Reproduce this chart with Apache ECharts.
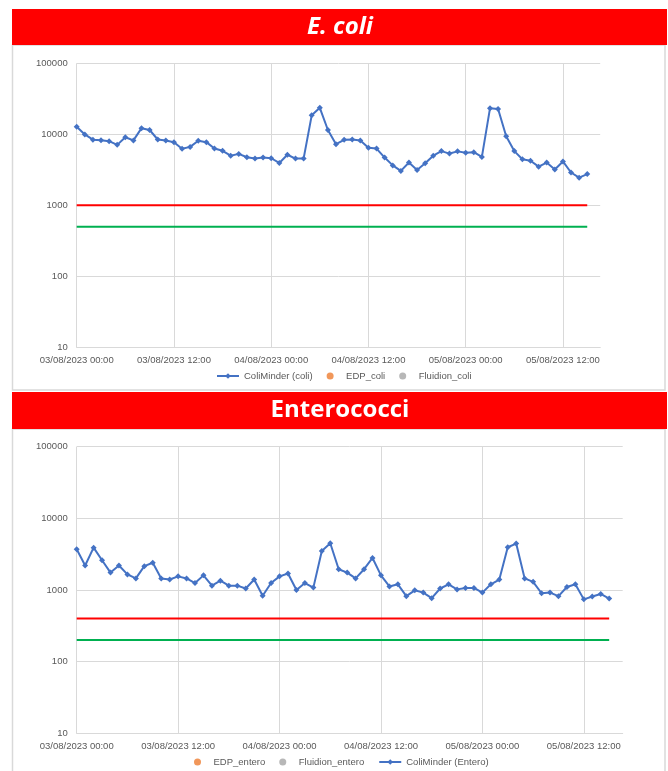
<!DOCTYPE html>
<html>
<head>
<meta charset="utf-8">
<script src="https://cdn.jsdelivr.net/npm/echarts@6/dist/echarts.min.js"></script>
<style>
  html, body { margin: 0; padding: 0; background: #fff; }
  #chart { width: 668px; height: 771px; }
</style>
</head>
<body>
<div id="chart"></div>
<script>
// hourly readings, 03/08/2023 00:00 -> 05/08/2023 15:00
const xTickLabels = [
  "03/08/2023 00:00", "03/08/2023 12:00", "04/08/2023 00:00",
  "04/08/2023 12:00", "05/08/2023 00:00", "05/08/2023 12:00"
];
const yTickLabels = ["10", "100", "1000", "10000", "100000"];

const coliMinderColi = [
  12800, 9950, 8400, 8250, 8000, 7100, 9100, 8200, 12200, 11500,
  8450, 8200, 7750, 6250, 6650, 8100, 7750, 6300, 5850, 5000,
  5300, 4750, 4550, 4700, 4600, 3950, 5150, 4550, 4550, 18500,
  23600, 11500, 7250, 8350, 8450, 8200, 6450, 6300, 4700, 3650,
  3050, 4000, 3150, 3900, 5000, 5800, 5350, 5750, 5500, 5600,
  4800, 23200, 22700, 9400, 5800, 4450, 4250, 3500, 4000, 3200,
  4150, 2900, 2450, 2750
];
const coliMinderEntero = [
  3700, 2200, 3900, 2600, 1750, 2200, 1650, 1450, 2150, 2400,
  1450, 1400, 1550, 1450, 1250, 1600, 1150, 1350, 1150, 1150,
  1050, 1400, 830, 1250, 1550, 1700, 1000, 1250, 1080, 3500,
  4500, 1950, 1750, 1450, 1950, 2800, 1600, 1120, 1200, 820,
  990, 920, 770, 1050, 1200, 1020, 1070, 1070, 920, 1200,
  1400, 3950, 4450, 1450, 1300, 900, 920, 820, 1100, 1200,
  740, 810, 880, 760
];
// limit lines: [start hour, end hour] at a fixed level
const limitHours = [0, 63];
const coliLimits = { red: 1000, green: 500 };
const enteroLimits = { red: 400, green: 200 };

const AXIS_MAX = 64.6; // hours after 03/08 00:00
const gridGray = "#D9D9D9";
const labelFont = "'Liberation Sans', Arial, sans-serif";

const toPoints = (arr) => arr.map((v, i) => [i, v]);
const limitLine = (v) => limitHours.map((h) => [h, v]);

const xAxisBase = (gridIndex) => ({
  type: "value",
  gridIndex,
  min: 0,
  max: AXIS_MAX,
  interval: 12,
  axisLine: { show: true, lineStyle: { color: gridGray, width: 1 } },
  axisTick: { show: false },
  splitLine: { show: true, showMaxLine: false, lineStyle: { color: gridGray } },
  axisLabel: {
    showMaxLabel: false,
    margin: 8,
    color: "#595959",
    fontSize: 9.5,
    fontFamily: labelFont,
    formatter: (v) => (v % 12 === 0 ? xTickLabels[v / 12] || "" : ""),
  },
});

const yAxisBase = (gridIndex) => ({
  type: "log",
  logBase: 10,
  gridIndex,
  min: 10,
  max: 100000,
  axisLine: { show: false },
  axisTick: { show: false },
  splitLine: { show: true, lineStyle: { color: gridGray } },
  axisLabel: {
    margin: 9,
    color: "#595959",
    fontSize: 9.5,
    fontFamily: labelFont,
    formatter: (v) => yTickLabels[Math.round(Math.log10(v)) - 1],
  },
});

const mainLine = (name, data, idx) => ({
  name,
  type: "line",
  xAxisIndex: idx,
  yAxisIndex: idx,
  data: toPoints(data),
  symbol: "diamond",
  symbolSize: 6,
  showAllSymbol: true,
  itemStyle: { color: "#4472C4" },
  lineStyle: { color: "#4472C4", width: 2 },
  z: 5,
});
const emptyScatter = (name, color, idx) => ({
  name,
  type: "scatter",
  xAxisIndex: idx,
  yAxisIndex: idx,
  data: [],
  itemStyle: { color },
});
const limitSeries = (v, color, idx) => ({
  type: "line",
  xAxisIndex: idx,
  yAxisIndex: idx,
  data: limitLine(v),
  symbol: "none",
  lineStyle: { color, width: 2 },
  silent: true,
  z: 3,
});

const legendText = { color: "#595959", fontSize: 9.5, fontFamily: labelFont };
const titleStyle = {
  color: "#fff",
  fontFamily: "'Open Sans', sans-serif",
  fontWeight: "bold",
  fontSize: 24,
};

const chart = echarts.init(document.getElementById("chart"));

const option = {
  animation: false,
  backgroundColor: "#fff",
  graphic: [
    { type: "rect", shape: { x: 12.5, y: 45, width: 652.5, height: 345 },
      style: { fill: "#fff", stroke: gridGray, lineWidth: 1.5 }, z: -10 },
    { type: "rect", shape: { x: 12.5, y: 429, width: 652.5, height: 360 },
      style: { fill: "#fff", stroke: gridGray, lineWidth: 1.5 }, z: -10 },
    { type: "rect", shape: { x: 12, y: 9, width: 655, height: 36 },
      style: { fill: "#FF0000" }, z: -5 },
    { type: "rect", shape: { x: 12, y: 392, width: 655, height: 37 },
      style: { fill: "#FF0000" }, z: -5 },
  ],
  title: [
    { text: "E. coli", left: 340, top: 27, textAlign: "center", textVerticalAlign: "middle",
      padding: 0, textStyle: Object.assign({ fontStyle: "italic" }, titleStyle) },
    { text: "Enterococci", left: 340, top: 410.5, textAlign: "center", textVerticalAlign: "middle",
      padding: 0, textStyle: titleStyle },
  ],
  legend: [
    {
      data: ["ColiMinder (coli)", "EDP_coli", "Fluidion_coli"],
      left: 216,
      top: 371,
      padding: 0,
      itemWidth: 22,
      itemHeight: 7,
      itemGap: 14,
      textStyle: legendText,
    },
    {
      data: ["EDP_entero", "Fluidion_entero", "ColiMinder (Entero)"],
      left: 194,
      top: 757,
      padding: 0,
      itemWidth: 22,
      itemHeight: 7,
      itemGap: 14,
      textStyle: legendText,
    },
  ],
  grid: [
    { left: 76.7, top: 63.3, width: 523.5, height: 284 },
    { left: 76.7, top: 446.7, width: 546, height: 286.6 },
  ],
  xAxis: [xAxisBase(0), xAxisBase(1)],
  yAxis: [yAxisBase(0), yAxisBase(1)],
  series: [
    limitSeries(coliLimits.red, "#FF0000", 0),
    limitSeries(coliLimits.green, "#00B050", 0),
    mainLine("ColiMinder (coli)", coliMinderColi, 0),
    emptyScatter("EDP_coli", "#ED7D31", 0),
    emptyScatter("Fluidion_coli", "#A5A5A5", 0),
    limitSeries(enteroLimits.red, "#FF0000", 1),
    limitSeries(enteroLimits.green, "#00B050", 1),
    emptyScatter("EDP_entero", "#ED7D31", 1),
    emptyScatter("Fluidion_entero", "#A5A5A5", 1),
    mainLine("ColiMinder (Entero)", coliMinderEntero, 1),
  ],
};

chart.setOption(option);

window.addEventListener("resize", function () {
  chart.resize();
});
</script>
</body>
</html>
